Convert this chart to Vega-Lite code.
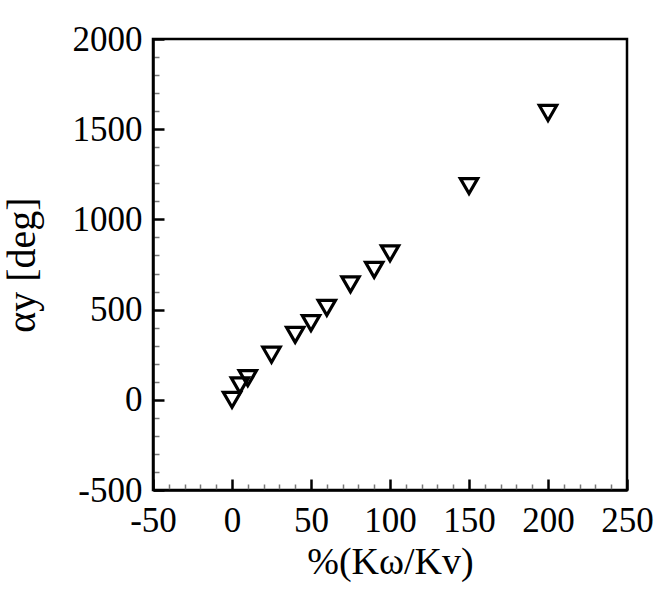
{
  "$schema": "https://vega.github.io/schema/vega-lite/v6.json",
  "width": 474,
  "height": 451,
  "autosize": "none",
  "padding": {"left": 153, "top": 39, "right": 37, "bottom": 101},
  "background": "white",
  "config": {
    "view": {"stroke": "black", "strokeWidth": 2.5},
    "font": "Liberation Serif"
  },
  "data": {
    "values": [
      {"k": 0, "alpha": 0},
      {"k": 5, "alpha": 80},
      {"k": 10, "alpha": 120},
      {"k": 25, "alpha": 250},
      {"k": 40, "alpha": 360},
      {"k": 50, "alpha": 425},
      {"k": 60, "alpha": 510},
      {"k": 75, "alpha": 640},
      {"k": 90, "alpha": 720},
      {"k": 100, "alpha": 812},
      {"k": 150, "alpha": 1185},
      {"k": 200, "alpha": 1590}
    ]
  },
  "mark": {"type": "point", "shape": "triangle-down", "filled": false, "stroke": "black", "strokeWidth": 3.2, "size": 300, "opacity": 1},
  "encoding": {
    "x": {
      "field": "k", "type": "quantitative",
      "scale": {"domain": [-50, 250], "nice": false, "zero": false},
      "axis": {
        "title": "%(Kω/Kv)",
        "titleFont": "Liberation Serif", "titleFontSize": 38, "titleFontWeight": "normal", "titleColor": "black",
        "titlePadding": 0,
        "values": [-50,-40,-30,-20,-10,0,10,20,30,40,50,60,70,80,90,100,110,120,130,140,150,160,170,180,190,200,210,220,230,240,250],
        "labelExpr": "datum.value % 50 === 0 ? '' + datum.value : ''",
        "labelOverlap": false,
        "labelFont": "Liberation Serif", "labelFontSize": 35, "labelColor": "black",
        "labelPadding": 24,
        "labelFlush": false,
        "grid": false,
        "domainColor": "black", "domainWidth": 2.5,
        "tickColor": {"condition": {"test": "datum.value % 50 === 0", "value": "black"}, "value": "#777"},
        "tickWidth": {"condition": {"test": "datum.value % 50 === 0", "value": 2.5}, "value": 1.5},
        "tickSize": {"condition": {"test": "datum.value % 50 === 0", "value": -11}, "value": -6}
      }
    },
    "y": {
      "field": "alpha", "type": "quantitative",
      "scale": {"domain": [-500, 2000], "nice": false, "zero": false},
      "axis": {
        "title": "αy [deg]",
        "titleFont": "Liberation Serif", "titleFontSize": 40, "titleFontWeight": "normal", "titleColor": "black",
        "titlePadding": 30,
        "values": [-500,-400,-300,-200,-100,0,100,200,300,400,500,600,700,800,900,1000,1100,1200,1300,1400,1500,1600,1700,1800,1900,2000],
        "labelExpr": "datum.value % 500 === 0 ? '' + datum.value : ''",
        "labelOverlap": false,
        "labelFont": "Liberation Serif", "labelFontSize": 35, "labelColor": "black",
        "labelPadding": 22,
        "labelFlush": false,
        "grid": false,
        "domainColor": "black", "domainWidth": 2.5,
        "tickColor": {"condition": {"test": "datum.value % 500 === 0", "value": "black"}, "value": "#777"},
        "tickWidth": {"condition": {"test": "datum.value % 500 === 0", "value": 2.5}, "value": 1.5},
        "tickSize": {"condition": {"test": "datum.value % 500 === 0", "value": -11}, "value": -6}
      }
    }
  }
}
